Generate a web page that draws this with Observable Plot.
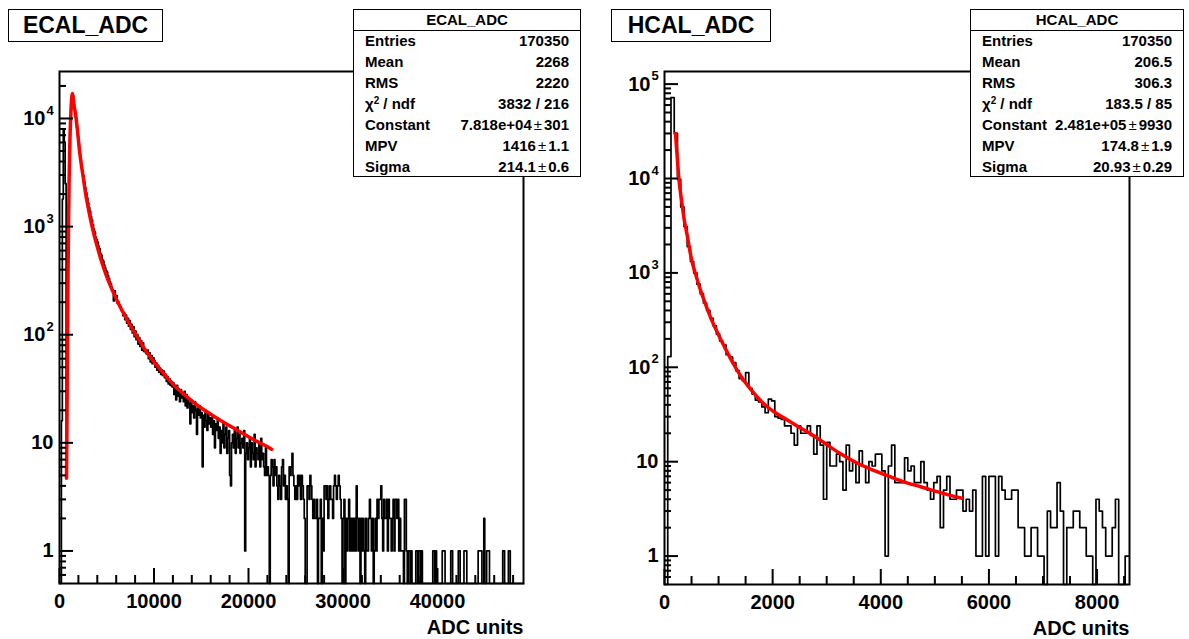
<!DOCTYPE html>
<html>
<head>
<meta charset="utf-8">
<script src="https://cdn.jsdelivr.net/npm/d3@7"></script>
<script src="https://cdn.jsdelivr.net/npm/@observablehq/plot@0.6"></script>
<style>
  body { margin: 0; background: #fff; font-family: "Liberation Sans", Arial, sans-serif; }
  #wrap { position: relative; width: 1189px; height: 639px; overflow: hidden; background: #fff; }
  .panel { position: absolute; top: 0; }
  .title { position: absolute; border: 1.5px solid #000; background: #fff; font-weight: bold;
           font-size: 23px; text-align: center; box-sizing: border-box; color: #000; }
  .stats { position: absolute; border: 1.5px solid #000; background: #fff; box-sizing: border-box;
           font-weight: bold; font-size: 15px; color: #000; }
  .stats .hdr { position: absolute; left: 0; right: 0; top: 0; height: 20px; border-bottom: 1.5px solid #000;
                text-align: center; line-height: 20px; }
  .stats .row { position: absolute; left: 11px; right: 11px; height: 20px; line-height: 20px; }
  .stats .row .l { position: absolute; left: 0; }
  .stats .row .v { position: absolute; right: 0; white-space: nowrap; }
  .stats sup { font-size: 10px; vertical-align: 5px; line-height: 0; }
  .pm { font-weight: normal; margin: 0 2px; }
</style>
</head>
<body>
<div id="wrap"></div>
<script>
// ---------------- data ----------------
// ECAL_ADC histogram: bins of 100 ADC from 0 to 49100
const ecalBinWidth = 100;
const ecalCounts = [
  0,0,16,1800,7800,6000,2500,8,160,1000,
  4200,8700,13500,16500,16200,13500,11500,10000,8300,6900,
  5900,4950,4200,3700,3300,2950,2600,2300,2050,1840,
  1660,1500,1390,1240,1150,1040,950,890,800,760,
  720,660,625,565,545,495,480,440,415,392,
  380,350,330,310,295,275,258,205,255,230,
  230,195,200,185,180,168,165,150,160,138,
  152,128,142,120,135,112,125,104,118,96,
  108,90,100,82,94,78,88,72,84,70,
  74,68,66,72,60,68,56,64,54,61,
  58,50,55,47,52,45,49,43,47,42,
  46,40,43,37,41,35,39,34,37,33,
  36,28,33,25,34,27,30,24,31,26,
  27,24,30,22,28,21,26,23,15,25,
  19,22,17,24,20,12,21,18,22,17,
  19,6,18,14,20,16,13,19,15,17,
  14,17,12,16,9,15,13,17,11,14,
  8,13,10,15,9,12,14,8,11,13,
  5,4,10,12,9,13,8,11,14,9,
  12,8,10,11,9,13,1,8,10,7,
  9,11,6,10,8,7,12,6,9,8,
  7,10,6,11,7,8,6,5,9,5,
  6,5,0,5,7,6,4,7,5,6,
  4,3,5,4,3,6,7,4,5,3,
  4,3,0,6,5,6,8,5,4,3,
  4,3,5,4,5,3,5,4,3,2,
  0,0,4,4,3,5,4,3,2,3,
  2,2,3,0,2,2,3,0,2,1,
  4,4,3,4,2,3,4,3,3,2,
  4,5,4,3,4,5,4,3,2,0,
  2,3,0,2,1,2,3,1,2,1,
  2,1,2,1,4,2,1,2,0,2,
  1,2,1,0,2,1,1,2,3,2,
  1,2,0,1,2,1,3,2,3,3,
  4,2,1,3,2,2,3,1,3,2,
  2,1,2,3,1,3,3,2,3,1,
  2,1,1,1,0,3,3,1,0,1,
  1,0,1,0,0,0,0,1,1,0,
  1,1,0,1,0,0,0,0,0,0,
  0,0,0,0,0,1,1,0,1,0,
  0,0,0,0,0,1,1,1,0,0,
  0,0,0,0,1,1,0,0,0,0,
  0,0,1,1,0,0,0,0,1,1,
  1,0,0,0,0,0,0,0,0,0,
  0,0,0,1,1,1,1,0,0,2,
  0,0,1,1,1,0,0,0,0,0,
  0,0,0,0,0,0,0,0,0,1,
  1,0,0,0,0,1,1,0,0,0,
  0,0,0,0,0,0,0,0,0,0,
  0
];
// ECAL Landau fit
const ecalFitX = [740,780,840,900,960,1020,1100,1200,1290,1360,1430,1550,1700,1900,2100,2300,2500,2750,3000,3300,3600,4000,4500,5000,5500,6000,7000,8000,9000,10000,11000,12000,13000,14000,15000,16000,17000,18000,19000,20000,21000,22000,22450];
const ecalFitY = [4.7,12,80,350,1100,2800,6200,11000,15500,17000,15800,13000,11000,7800,5200,3800,2900,2050,1550,1150,880,650,460,345,268,215,145,103,74,56,44,35,29,24.5,21,18.4,16.2,14.4,12.8,11.4,10.2,9.2,8.7];

// HCAL_ADC histogram: bins of 60 ADC from 0 to 8580
const hcalBinWidth = 60;
const hcalCounts = [
  0,130,72000,30000,9800,5000,3100,1900,1320,1000,
  760,600,480,400,330,275,225,190,172,136,
  128,112,92,76,72,88,60,52,45,43,
  38,33,46,44,30,29,28,24,24,20,
  15,24,20,20,24,19,12,24,15,4,
  16,9,9,12,10,5,15,8,10,6,
  13,9,6,10,9,12,12,8,1,9,
  15,6,6,6,11,8,9,6,6,10,
  6,5,4,6,7,2,5,7,4,4,
  5,5,3,4,3,5,1,1,7,1,
  7,7,1,7,5,4,4,5,5,2,
  2,1,1,2,2,1,1,0,3,2,
  2,6,3,0,2,2,3,3,2,2,
  1,1,0,4,3,2,1,1,2,4,
  0,0,1
];
const hcalFitX = [203,235,264,300,327,370,420,470,512,580,650,750,850,1000,1133,1270,1416,1600,1800,2050,2280,2500,2700,2980,3250,3540,3800,4100,4400,4750,5100,5500];
const hcalFitY = [30000,17000,10300,6800,5200,3500,2500,1700,1300,950,700,480,340,220,155,110,80,58,43,33,27.5,23,19.8,15.5,12.2,9.8,8.4,7.2,6.2,5.4,4.7,4.1];

// axes
const ecalYTicks = [1,10,100,1000,10000];
const ecalYMinor = [0.6,0.7,0.8,0.9,2,3,4,5,6,7,8,9,20,30,40,50,60,70,80,90,200,300,400,500,600,700,800,900,2000,3000,4000,5000,6000,7000,8000,9000,20000];
const ecalXTicks = [0,10000,20000,30000,40000];
const ecalXMinor = [2000,4000,6000,8000,12000,14000,16000,18000,22000,24000,26000,28000,32000,34000,36000,38000,42000,44000,46000,48000];
const hcalYTicks = [1,10,100,1000,10000,100000];
const hcalYMinor = [0.6,0.7,0.8,0.9,2,3,4,5,6,7,8,9,20,30,40,50,60,70,80,90,200,300,400,500,600,700,800,900,2000,3000,4000,5000,6000,7000,8000,9000,20000,30000,40000,50000,60000,70000,80000,90000];
const hcalXTicks = [0,2000,4000,6000,8000];
const hcalXMinor = [500,1000,1500,2500,3000,3500,4500,5000,5500,6500,7000,7500,8500];

const xTitle = "ADC units";
const statLabels = ["Entries","Mean","RMS","χ<sup>2</sup> / ndf","Constant","MPV","Sigma"];
const ecalStats = ["170350","2268","2220","3832 / 216","7.818e+04<span class=pm>±</span>301","1416<span class=pm>±</span>1.1","214.1<span class=pm>±</span>0.6"];
const hcalStats = ["170350","206.5","306.3","183.5 / 85","2.481e+05<span class=pm>±</span>9930","174.8<span class=pm>±</span>1.9","20.93<span class=pm>±</span>0.29"];

// ---------------- drawing ----------------
const FONT = '"Liberation Sans", Arial, Helvetica, sans-serif';
function makePanel(cfg) {
  const H = 639;
  const fw = cfg.width - cfg.ml - cfg.mr, fh = H - cfg.mt - cfg.mb;
  const pts = cfg.counts.map((c, i) => ({x: i * cfg.bw, y: c > 0 ? c : cfg.ymin}));
  pts.push({x: cfg.counts.length * cfg.bw, y: pts[pts.length - 1].y});
  const fit = cfg.fitX.map((x, i) => ({x, y: cfg.fitY[i]}));
  const labs = cfg.yTicks.map(v => {
    const e = Math.round(Math.log10(v));
    return {v, base: e <= 1 ? String(v) : "10", exp: e <= 1 ? "" : String(e)};
  });
  return Plot.plot({
    width: cfg.width, height: H,
    marginLeft: cfg.ml, marginRight: cfg.mr, marginTop: cfg.mt, marginBottom: cfg.mb,
    x: {domain: [0, cfg.xmax], axis: null},
    y: {type: "log", domain: [cfg.ymin, cfg.ymax], axis: null},
    style: {fontFamily: FONT, color: "black", background: "transparent", overflow: "visible"},
    marks: [
      Plot.line(pts, {x: "x", y: "y", curve: "step-after", stroke: "black", strokeWidth: 1.7}),
      Plot.line(fit, {x: "x", y: "y", curve: "monotone-x", stroke: "#ff0000", strokeWidth: 3.5}),
      Plot.frame({stroke: "black", strokeWidth: 2}),
      Plot.tickY(cfg.yTicks, {y: d => d, insetRight: fw - 14, stroke: "black", strokeWidth: 2}),
      Plot.tickY(cfg.yMinor, {y: d => d, insetRight: fw - 7, stroke: "black", strokeWidth: 2}),
      Plot.tickX(cfg.xTicks, {x: d => d, insetTop: fh - 15, stroke: "black", strokeWidth: 2}),
      Plot.tickX(cfg.xMinor, {x: d => d, insetTop: fh - 8, stroke: "black", strokeWidth: 2}),
      Plot.text(labs.filter(d => !d.exp), {y: "v", text: "base", frameAnchor: "left", textAnchor: "end", lineAnchor: "middle", dx: -6, fontSize: 20, fontWeight: "bold", fill: "black"}),
      Plot.text(labs.filter(d => d.exp), {y: "v", text: "base", frameAnchor: "left", textAnchor: "end", lineAnchor: "middle", dx: -14, fontSize: 20, fontWeight: "bold", fill: "black"}),
      Plot.text(labs.filter(d => d.exp), {y: "v", text: "exp", frameAnchor: "left", textAnchor: "start", lineAnchor: "middle", dx: -13, dy: -8, fontSize: 13, fontWeight: "bold", fill: "black"}),
      Plot.text(cfg.xTicks, {x: d => d, text: d => String(d), frameAnchor: "bottom", lineAnchor: "middle", dy: 18, fontSize: 20, fontWeight: "bold", fill: "black"}),
      Plot.text([xTitle], {text: d => d, frameAnchor: "bottom-right", textAnchor: "end", lineAnchor: "middle", dy: 44, fontSize: 20, fontWeight: "bold", fill: "black"})
    ]
  });
}

function addBox(parent, cls, left, top, width, height) {
  const d = document.createElement("div");
  d.className = cls;
  Object.assign(d.style, {left: left + "px", top: top + "px", width: width + "px", height: height + "px"});
  parent.appendChild(d);
  return d;
}

function addStats(parent, name, values, left, top, width, height) {
  const box = addBox(parent, "stats", left, top, width, height);
  const hdr = document.createElement("div");
  hdr.className = "hdr"; hdr.textContent = name; box.appendChild(hdr);
  const rowH = (height - 22) / statLabels.length;
  statLabels.forEach((lab, i) => {
    const r = document.createElement("div");
    r.className = "row";
    r.style.top = (21 + i * rowH + (rowH - 20) / 2) + "px";
    r.innerHTML = `<span class="l">${lab}</span><span class="v">${values[i]}</span>`;
    box.appendChild(r);
  });
}

const wrap = document.getElementById("wrap");
const p1 = document.createElement("div"); p1.className = "panel"; p1.style.left = "0px";
p1.appendChild(makePanel({width: 594, ml: 59, mr: 71, mt: 71, mb: 56, counts: ecalCounts, bw: ecalBinWidth,
  fitX: ecalFitX, fitY: ecalFitY, xmax: 49100, ymin: 0.5, ymax: 27200,
  yTicks: ecalYTicks, yMinor: ecalYMinor, xTicks: ecalXTicks, xMinor: ecalXMinor}));
wrap.appendChild(p1);
const p2 = document.createElement("div"); p2.className = "panel"; p2.style.left = "594px";
p2.appendChild(makePanel({width: 595, ml: 70, mr: 60, mt: 71, mb: 55, counts: hcalCounts, bw: hcalBinWidth,
  fitX: hcalFitX, fitY: hcalFitY, xmax: 8600, ymin: 0.5, ymax: 136000,
  yTicks: hcalYTicks, yMinor: hcalYMinor, xTicks: hcalXTicks, xMinor: hcalXMinor}));
wrap.appendChild(p2);

const t1 = addBox(wrap, "title", 8, 9, 155, 33); t1.textContent = "ECAL_ADC"; t1.style.lineHeight = "30px";
const t2 = addBox(wrap, "title", 611, 9, 160, 33); t2.textContent = "HCAL_ADC"; t2.style.lineHeight = "30px";
addStats(wrap, "ECAL_ADC", ecalStats, 353, 9, 228, 168);
addStats(wrap, "HCAL_ADC", hcalStats, 970, 9, 214, 168);
</script>
</body>
</html>
